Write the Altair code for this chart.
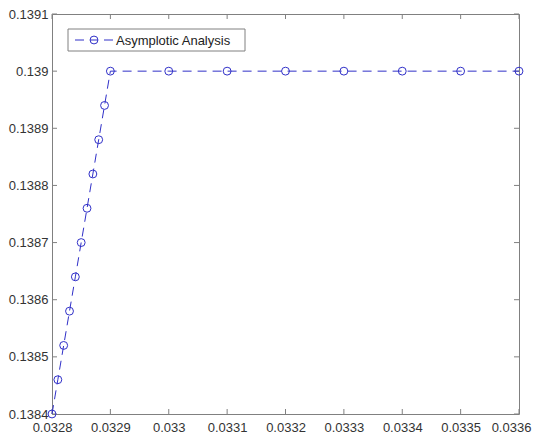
import altair as alt
import pandas as pd

series_name = "Asymplotic Analysis"
x_vals = [0.03280, 0.03281, 0.03282, 0.03283, 0.03284, 0.03285, 0.03286,
          0.03287, 0.03288, 0.03289, 0.03290,
          0.0330, 0.0331, 0.0332, 0.0333, 0.0334, 0.0335, 0.0336]
y_vals = [0.13840, 0.13846, 0.13852, 0.13858, 0.13864, 0.13870, 0.13876,
          0.13882, 0.13888, 0.13894, 0.13900,
          0.1390, 0.1390, 0.1390, 0.1390, 0.1390, 0.1390, 0.1390]
x_ticks = [0.0328, 0.0329, 0.0330, 0.0331, 0.0332, 0.0333, 0.0334, 0.0335, 0.0336]
y_ticks = [0.1384, 0.1385, 0.1386, 0.1387, 0.1388, 0.1389, 0.1390, 0.1391]

W, H = 467, 400
BLUE = "#3030c8"
GRAY = "#808080"
FONT = "Liberation Sans"

df = pd.DataFrame({"x": x_vals, "y": y_vals, "s": series_name})
xt = pd.DataFrame({"v": x_ticks})
yt = pd.DataFrame({"v": y_ticks})
lg = pd.DataFrame({"label": [series_name]})

xscale = alt.Scale(domain=[x_ticks[0], x_ticks[-1]], nice=False, zero=False)
yscale = alt.Scale(domain=[y_ticks[0], y_ticks[-1]], nice=False, zero=False)

xenc = alt.X("x:Q", scale=xscale,
             axis=alt.Axis(values=x_ticks, format="~g", title=None, grid=False,
                           domain=False, ticks=False, labelPadding=7,
                           labelOverlap=False, labelFlush=False, labelBound=False,
                           labelOffset={"condition": {"test": "datum.value > 0.03358", "value": -8},
                                        "value": 0}))
yenc = alt.Y("y:Q", scale=yscale,
             axis=alt.Axis(values=y_ticks, format="~g", title=None, grid=False,
                           domain=False, ticks=False, labelPadding=4,
                           labelOverlap=False, labelFlush=False, labelBound=False))

line = alt.Chart(df).mark_line(color=BLUE, strokeWidth=1, strokeDash=[9, 6]).encode(x=xenc, y=yenc)
pts = alt.Chart(df).mark_point(shape="circle", filled=False, color=BLUE, size=62,
                               strokeWidth=1, opacity=1).encode(x="x:Q", y="y:Q")

tl = 5
xb = alt.Chart(xt).mark_rule(color=GRAY).encode(x=alt.X("v:Q", scale=xscale), y=alt.value(H), y2=alt.value(H - tl))
xtp = alt.Chart(xt).mark_rule(color=GRAY).encode(x=alt.X("v:Q", scale=xscale), y=alt.value(0), y2=alt.value(tl))
yl = alt.Chart(yt).mark_rule(color=GRAY).encode(y=alt.Y("v:Q", scale=yscale), x=alt.value(0), x2=alt.value(tl))
yr = alt.Chart(yt).mark_rule(color=GRAY).encode(y=alt.Y("v:Q", scale=yscale), x=alt.value(W), x2=alt.value(W - tl))

# legend box
lbox = alt.Chart(lg).mark_rect(fill="white", stroke=GRAY, strokeWidth=1).encode(
    x=alt.value(16), x2=alt.value(193), y=alt.value(15), y2=alt.value(37))
lline = alt.Chart(lg).mark_rule(color=BLUE, strokeWidth=1, strokeDash=[9, 6, 8, 6, 9, 40]).encode(
    x=alt.value(23), x2=alt.value(61), y=alt.value(26))
lpt = alt.Chart(lg).mark_point(shape="circle", filled=False, color=BLUE, size=62, strokeWidth=1,
                               opacity=1).encode(x=alt.value(42), y=alt.value(26))
ltxt = alt.Chart(lg).mark_text(align="left", baseline="middle", font=FONT, fontSize=13,
                               color="#222222").encode(x=alt.value(64), y=alt.value(26.5), text="label:N")

chart = alt.layer(xb, xtp, yl, yr, line, pts, lbox, lline, lpt, ltxt).properties(
    width=W, height=H,
    autosize=alt.AutoSizeParams(type="none"),
    padding={"left": 44, "top": 6, "right": 14, "bottom": 19},
    background="white",
).configure_view(stroke=GRAY, strokeWidth=1).configure_axis(
    labelFont=FONT, labelFontSize=13, labelColor="#333333"
)

chart.save("out.html", embed_options={"renderer": "svg", "actions": False})
